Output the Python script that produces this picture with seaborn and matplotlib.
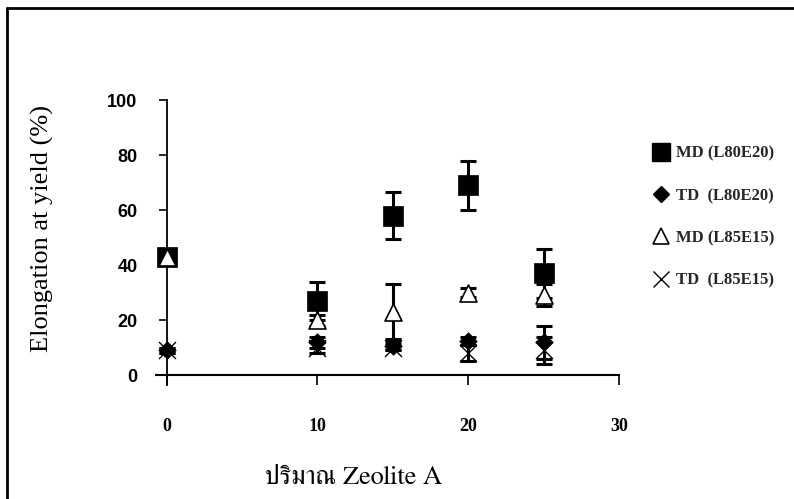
import numpy as np
import pandas as pd
import matplotlib
matplotlib.use("Agg")
import matplotlib.pyplot as plt
from matplotlib import font_manager
from matplotlib.ft2font import FT2Font
from matplotlib.lines import Line2D
import seaborn as sns

# Zeolite A content (x) and elongation at yield (%) with error bars
zeolite = [0, 10, 15, 20, 25]
md_l80e20 = [43, 27, 58, 69, 37]
md_l80e20_err = [2, 7, 8.5, 9, 9]
td_l80e20 = [9, 12, 10.5, 12.5, 12]
td_l80e20_err = [1, 2, 1.5, 1.5, 6]
md_l85e15 = [43, 20, 23, 30, 29]
md_l85e15_err = [2, 2, 10, 1.5, 4]
td_l85e15 = [9, 10, 10, 8, 9]
td_l85e15_err = [1, 2, 1, 3, 5]

series_names = ["MD (L80E20)", "TD  (L80E20)", "MD (L85E15)", "TD  (L85E15)"]
x_ticks = [0, 10, 20, 30]
y_ticks = [0, 20, 40, 60, 80, 100]
x_title = "ปริมาณ Zeolite A"
y_title = "Elongation at yield (%)"


def find_thai_font():
    """Return a family name that covers Thai script, preferring serif faces."""
    found = []
    for f in font_manager.fontManager.ttflist:
        try:
            ft = FT2Font(f.fname)
            if ft.get_char_index(ord("ป")) and ft.get_char_index(ord("Z")):
                found.append(f.name)
        except Exception:
            continue
    for pref in ("Serif", "Loma", "Garuda", "Thai", "Sans"):
        for name in found:
            if pref in name:
                return name
    return found[0] if found else "DejaVu Sans"


sns.set_theme(style="white")
plt.rcParams["font.family"] = ["Liberation Serif", "DejaVu Serif"]
thai_font = find_thai_font()

df = pd.DataFrame({
    "zeolite": zeolite * 4,
    "value": md_l80e20 + td_l80e20 + md_l85e15 + td_l85e15,
    "err": md_l80e20_err + td_l80e20_err + md_l85e15_err + td_l85e15_err,
    "series": sum([[n] * len(zeolite) for n in series_names], []),
})

fig = plt.figure(figsize=(7.94, 4.99), dpi=100)
ax = fig.add_axes([155 / 794, (499 - 385) / 499, 465 / 794, 285 / 499])

styles = {
    "MD (L80E20)": dict(marker="s", s=190, color="black", edgecolor="black", linewidth=0.5),
    "TD  (L80E20)": dict(marker="D", s=80, color="black", edgecolor="black", linewidth=0.5),
    "MD (L85E15)": dict(marker="^", s=150, color="white", edgecolor="black", linewidth=1.2),
    "TD  (L85E15)": dict(marker="x", s=150, color="black", linewidth=1.0),
}

for name in series_names:
    sub = df[df["series"] == name]
    ax.errorbar(sub["zeolite"], sub["value"], yerr=sub["err"], fmt="none",
                ecolor="black", elinewidth=2.2, capsize=5.5, capthick=2.2, zorder=2)
    sns.scatterplot(data=sub, x="zeolite", y="value", ax=ax, legend=False,
                    zorder=3, **styles[name])

ax.set_xlim(-0.77, 30.05)
ax.set_ylim(-3.6, 100)
for side in ("top", "right", "bottom"):
    ax.spines[side].set_visible(False)
ax.spines["left"].set_position(("data", 0))
ax.spines["left"].set_color("black")
ax.spines["left"].set_linewidth(1.3)
ax.axhline(0, color="black", lw=1.5, zorder=1)

ax.set_xticks(x_ticks)
ax.set_xticklabels([str(v) for v in x_ticks], fontsize=13, fontweight="bold")
ax.set_yticks(y_ticks)
ax.set_yticklabels([str(v) for v in y_ticks], fontsize=13, fontweight="bold",
                   family=["Liberation Sans", "DejaVu Sans"])
ax.tick_params(axis="x", bottom=True, direction="in", length=7, width=1.2, pad=24,
               colors="black")
ax.tick_params(axis="y", left=True, direction="out", length=6, width=1.2, pad=15,
               colors="black")
ax.set_xlabel("")
ax.set_ylabel("")

fig.text(42 / 794, 1 - 229 / 499, y_title, rotation=90, ha="center", va="center",
         fontsize=19, color="black")
fig.text(354 / 794, 1 - 478 / 499, x_title, ha="center", va="center",
         fontsize=19, color="black", family=[thai_font, "DejaVu Sans"])

handles = [
    Line2D([], [], ls="none", marker="s", ms=13, mfc="black", mec="black"),
    Line2D([], [], ls="none", marker="D", ms=8, mfc="black", mec="black"),
    Line2D([], [], ls="none", marker="^", ms=11, mfc="white", mec="black", mew=1.2),
    Line2D([], [], ls="none", marker="x", ms=12, mec="black", mew=1.0),
]
leg = fig.legend(handles, series_names, loc="upper left",
                 bbox_to_anchor=(644 / 794, 1 - 139 / 499), frameon=False,
                 prop={"family": "Liberation Serif", "weight": "bold", "size": 12},
                 labelspacing=1.58, handletextpad=0.3, handlelength=1.2, borderaxespad=0)

# page frame (top and left edges of the scanned box)
fig.add_artist(Line2D([7 / 794, 1.0], [1 - 8 / 499, 1 - 8 / 499], color="black", lw=2,
                      transform=fig.transFigure))
fig.add_artist(Line2D([7 / 794, 7 / 794], [0.0, 1 - 8 / 499], color="black", lw=2,
                      transform=fig.transFigure))

fig.savefig("out.png", dpi=100, facecolor="white")
